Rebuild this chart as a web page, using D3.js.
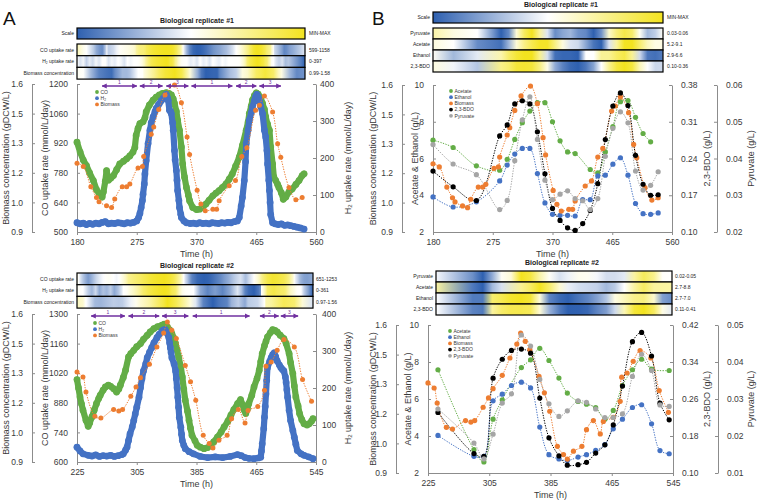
<!DOCTYPE html>
<html>
<head>
<meta charset="utf-8">
<script src="https://cdn.jsdelivr.net/npm/d3@7"></script>
<style>
  body { margin: 0; background: #fff; }
</style>
</head>
<body>
<script>
// ---------- replicate #1, gas uptake (panel A top) ----------
var co1T = [180,185,190,195,200,206,211,216,220,222,225,227,230,234,238,243,248,254,259,264,269,272,274,277,280,285,288,290,295,301,306,311,316,322,326,330,333,335,338,340,343,346,348,351,354,357,359,364,370,375,380,385,390,396,401,406,411,417,422,427,432,438,443,449,452,454,457,459,462,465,468,472,475,478,480,483,486,488,491,493,496,499,501,505,508,512,517,522,528,533,538,541];
var co1 = [925,878,840,814,780,743,700,675,665,690,740,790,745,755,767,795,822,835,846,860,878,900,957,990,1013,1021,1040,1068,1100,1124,1138,1148,1155,1159,1155,1148,1130,1108,1070,1029,981,902,822,759,711,675,648,616,606,608,618,632,650,671,684,695,710,727,750,775,810,854,910,981,1020,1060,1095,1124,1145,1158,1152,1135,1108,1080,1044,1010,981,902,822,759,743,725,711,685,655,665,690,703,725,743,767,775];
var h21T = [180,185,190,195,200,205,210,215,220,225,230,235,240,245,250,255,260,265,270,275,278,280,282,284,285,287,288,290,293,296,298,301,304,306,309,311,314,317,320,322,324,325,327,329,330,332,333,335,336,338,339,340,342,343,345,346,350,354,360,365,370,375,380,385,390,395,400,405,410,415,420,425,430,435,438,441,443,446,448,449,452,454,457,459,462,464,466,468,470,472,475,478,480,482,483,485,486,487,488,491,495,500,505,510,515,520,525,530,535,541];
var h21 = [25,22,24,20,23,21,24,22,26,28,22,24,23,25,24,22,25,24,26,30,39,50,66,85,102,130,157,193,239,275,295,311,325,334,342,347,355,361,368,372,362,356,329,325,320,295,275,220,195,166,140,112,85,66,48,39,30,25,23,24,22,25,23,24,22,25,24,23,25,24,26,25,28,30,39,70,93,139,190,239,275,302,322,338,355,366,372,365,356,340,320,275,257,220,184,140,112,80,47,25,22,20,22,18,19,17,15,13,11,8];
var bio1T = [180,190,202,211,215,227,235,240,252,259,264,277,284,286,298,302,310,320,335,346,355,359,371,377,384,396,402,406,422,432,442,450,464,470,478,491,499,504,517,528,538];
var bio1 = [1.225,1.21,1.114,1.063,1.043,1.024,1.016,1.056,1.114,1.114,1.127,1.203,1.21,1.257,1.362,1.397,1.479,1.548,1.595,1.511,1.349,1.267,1.098,1.032,1.0,1.008,1.008,1.048,1.119,1.143,1.257,1.298,1.476,1.5,1.543,1.468,1.317,1.254,1.111,1.052,1.063];

// ---------- replicate #2, gas uptake (panel A bottom) ----------
var co2T = [225,227,229,231,233,237,240,242,245,248,251,254,256,260,263,267,270,274,278,281,283,287,290,294,297,301,305,310,314,319,323,328,333,339,342,346,349,352,355,357,359,361,364,366,368,370,373,375,377,379,383,386,390,395,400,404,408,413,418,422,427,431,435,440,444,447,449,451,453,455,459,462,466,469,471,473,476,478,480,484,487,490,493,497,502,505,509,511,514,516,518,521,523,526,529,533,536,539,541];
var co2 = [990,950,908,875,845,797,769,785,813,845,876,900,915,940,955,963,958,947,931,945,963,1000,1034,1097,1112,1128,1145,1160,1180,1199,1215,1231,1240,1247,1252,1239,1225,1207,1185,1160,1130,1097,1050,1002,945,892,840,797,760,726,700,679,670,663,668,679,695,718,742,766,793,821,848,876,895,870,845,829,850,876,915,955,995,1034,1075,1113,1150,1170,1191,1212,1226,1222,1215,1200,1184,1160,1113,1070,1018,960,908,865,829,800,781,775,781,793,805];
var h22T = [225,229,233,240,245,250,255,260,265,270,275,280,285,287,290,292,294,296,299,301,303,305,308,310,312,314,317,319,322,325,328,332,335,339,341,343,345,348,349,350,351,352,355,357,358,359,360,361,362,364,365,366,368,370,375,381,390,400,410,420,430,440,445,450,455,462,468,471,472,473,475,476,477,478,479,480,483,485,487,489,491,493,496,498,500,502,504,505,506,507,509,511,514,516,518,520,525,529,535,541];
var h22 = [40,30,22,18,16,19,15,17,16,18,15,17,20,22,32,40,58,76,95,112,130,148,175,201,225,246,265,282,296,309,322,336,345,354,357,358,350,336,322,309,296,282,265,246,225,201,175,148,120,94,75,58,45,36,28,22,15,12,14,12,15,20,17,12,10,9,11,13,30,49,90,121,150,184,220,255,272,282,290,295,285,273,262,255,250,246,230,215,195,175,140,112,85,67,48,31,22,18,14,9];
var bio2T = [225,233,237,249,257,274,281,286,297,304,310,322,332,341,346,352,358,370,377,384,394,402,407,415,426,432,441,450,454,467,476,478,485,493,502,516,527,539];
var bio2 = [1.326,1.302,1.231,1.116,1.108,1.148,1.141,1.148,1.211,1.255,1.299,1.362,1.444,1.51,1.562,1.523,1.484,1.357,1.279,1.192,1.026,0.987,0.966,1.003,1.026,1.105,1.148,1.085,1.144,1.163,1.239,1.353,1.373,1.428,1.479,1.444,1.29,1.187];

// ---------- replicate #1, metabolites (panel B top) ----------
var met1T = [180,212,249,286,298,310,322,334,346,358,370,382,394,406,418,430,442,454,466,478,490,502,514,526,538];
var ac1T = [180,212,249,286,298,310,322,334,346,358,370,382,394,406,430,442,454,466,478,490,502,514,526];
var ac1 = [7.0,6.6,5.6,5.36,5.96,7.04,7.95,8.58,9.04,9.04,8.0,6.96,6.36,6.27,5.4,5.22,6.36,7.73,9.09,9.15,8.24,7.36,6.91];
var et1 = [3.91,3.36,3.64,4.78,5.64,6.24,6.55,6.55,5.18,3.58,2.96,2.91,2.91,2.87,3.76,3.76,5.05,5.09,5.69,6.04,5.09,3.55,3.0,2.96,3.04];
var bdo1 = [0.216,0.186,0.160,0.283,0.304,0.344,0.350,0.344,0.291,0.211,0.145,0.122,0.108,0.103,0.116,0.141,0.192,0.276,0.340,0.365,0.341,0.246,0.191,0.170,0.171];
var pyr1 = [0.0438,0.0385,0.0356,0.0261,0.0286,0.0394,0.0505,0.0568,0.0452,0.0341,0.0288,0.0303,0.0312,0.0291,0.0285,0.0261,0.0291,0.0406,0.0482,0.0527,0.0497,0.0366,0.0314,0.0327,0.0364];

// ---------- replicate #2, metabolites (panel B bottom) ----------
var met2T = [238,285,298,310,322,334,347,359,371,383,396,407,421,432,444,456,467,479,492,504,517,528,540];
var ac2T = [238,285,298,310,322,347,359,371,383,396,407,421,432,444,456,467,479,492,504,517,540];
var ac2 = [7.58,3.26,2.6,4.91,5.96,7.70,8.12,8.74,8.08,7.13,6.32,5.87,5.72,5.54,4.91,5.38,6.73,7.58,8.15,7.61,7.54];
var et2 = [4.03,2.90,2.90,5.90,6.26,6.73,6.91,6.60,4.48,2.99,2.76,2.67,2.86,2.99,3.22,3.53,4.39,4.91,5.54,5.69,4.66,3.21,3.04];
var bdo2 = [0.231,0.142,0.136,0.305,0.346,0.365,0.368,0.359,0.262,0.176,0.137,0.117,0.118,0.123,0.143,0.161,0.204,0.288,0.384,0.404,0.353,0.251,0.215];
var pyr2 = [0.0273,0.0181,0.0138,0.0205,0.0289,0.0314,0.0473,0.0443,0.0353,0.0287,0.0253,0.0268,0.0295,0.0291,0.0273,0.0250,0.0250,0.0260,0.0361,0.0421,0.0377,0.0284,0.0280];

// ---------- process phases (purple arrows) ----------
var phaseLabels = ["1","2","3","1","2","3"];
var phase1Start = [220,280,322,362,433,470];
var phase1End   = [275,316,357,427,465,504];
var phase2Start = [244,294,339,380,470,498];
var phase2End   = [289,335,374,456,495,521];

// ---------- ticks and labels ----------
var xTicks1 = [180,275,370,465,560];
var xTicks2 = [225,305,385,465,545];
var co1Ticks = [500,640,780,920,1060,1200];
var co2Ticks = [600,740,880,1020,1160,1300];
var h2Ticks = [0,100,200,300,400];
var bioTicks = [0.9,1.04,1.18,1.32,1.46,1.6];
var acTicks = [2,4,6,8,10];
var bdo1Ticks = [0.10,0.17,0.24,0.31,0.38];
var bdo2Ticks = [0.10,0.18,0.26,0.34,0.42];
var pyr1Ticks = [0.02,0.03,0.04,0.05,0.06];
var pyr2Ticks = [0.01,0.02,0.03,0.04,0.05];

var gasRows = ["CO uptake rate","H_2 uptake rate","Biomass concentration"];
var gasRange1 = ["599-1158","0-397","0.99-1.58"];
var gasRange2 = ["651-1253","0-361","0.97-1.56"];
var metRows = ["Pyruvate","Acetate","Ethanol","2,3-BDO"];
var metRange1 = ["0.03-0.06","5.2-9.1","2.9-6.6","0.10-0.36"];
var metRange2 = ["0.02-0.05","2.7-8.8","2.7-7.0","0.11-0.41"];
var gasLegend = ["CO","H_2","Biomass"];
var metLegend = ["Acetate","Ethanol","Biomass","2,3-BDO","Pyruvate"];

var cGreen = "#63ad46", cBlue = "#4472c4", cOrange = "#ed7d31", cBlack = "#000000", cGray = "#a5a5a5";
var purple = "#7030a0", axisGray = "#8c8c8c", textCol = "#3a3a3a";
var heatBlue = "#2e60b0", heatYellow = "#f3e31f";

var svg = d3.select("body").append("svg")
    .attr("width", 757).attr("height", 503)
    .style("font-family", "'Liberation Sans', Arial, sans-serif");
var defs = svg.append("defs");
var gradId = 0;

defs.append("marker").attr("id", "arr")
    .attr("viewBox", "0 0 10 10").attr("refX", 9).attr("refY", 5)
    .attr("markerWidth", 3.2).attr("markerHeight", 3.2)
    .attr("orient", "auto-start-reverse")
  .append("path").attr("d", "M0,0L10,5L0,10z").attr("fill", purple);

// text with an optional subscript 2 (written as _2)
function richText(t, str) {
  var parts = str.split("_2");
  t.append("tspan").text(parts[0]);
  if (parts.length > 1) {
    t.append("tspan").attr("baseline-shift", "-20%").style("font-size", "65%").text("2");
    t.append("tspan").text(parts[1]);
  }
}

// median weighted by the time each sample covers (3-colour scale midpoint)
function timeMedian(ts, vs) {
  var items = vs.map(function(v, i) {
    var a = i > 0 ? ts[i - 1] : ts[i], b = i < ts.length - 1 ? ts[i + 1] : ts[i];
    return {v: v, w: (b - a) / 2};
  }).sort(function(p, q) { return p.v - q.v; });
  var total = d3.sum(items, function(d) { return d.w; }), acc = 0;
  for (var k = 0; k < items.length; k++) {
    acc += items[k].w;
    if (acc >= total / 2) return items[k].v;
  }
  return items[items.length - 1].v;
}

function smallText(x, y, str, anchor, size, weight) {
  var t = svg.append("text").attr("x", x).attr("y", y).attr("dy", "0.35em")
      .attr("text-anchor", anchor).attr("fill", "#222")
      .style("font-size", size + "px").style("font-weight", weight || "normal");
  richText(t, str);
}

function scaleBar(x0, x1, y0, h, labelX, rangeX) {
  var id = "g" + (gradId++);
  var grad = defs.append("linearGradient").attr("id", id);
  grad.selectAll("stop").data([heatBlue, "#ffffff", heatYellow]).enter().append("stop")
      .attr("offset", function(d, i) { return (i * 50) + "%"; })
      .attr("stop-color", function(d) { return d; });
  svg.append("rect").attr("x", x0).attr("y", y0).attr("width", x1 - x0).attr("height", h)
      .attr("fill", "url(#" + id + ")").attr("stroke", "#000").attr("stroke-width", 1.2);
  smallText(labelX, y0 + h / 2, "Scale", "end", 5);
  smallText(rangeX, y0 + h / 2, "MIN-MAX", "start", 5);
}

function heatRow(box, y0, tDom, ts, vs, label, range) {
  var id = "g" + (gradId++);
  var ext = d3.extent(vs);
  var color = d3.scaleLinear().domain([ext[0], timeMedian(ts, vs), ext[1]])
      .range([heatBlue, "#ffffff", heatYellow]);
  var pos = d3.scaleLinear().domain(tDom).range([0, 100]).clamp(true);
  var grad = defs.append("linearGradient").attr("id", id);
  grad.selectAll("stop").data(ts).enter().append("stop")
      .attr("offset", function(d) { return pos(d) + "%"; })
      .attr("stop-color", function(d, i) { return color(vs[i]); });
  svg.append("rect").attr("x", box.x0).attr("y", y0).attr("width", box.x1 - box.x0).attr("height", box.h)
      .attr("fill", "url(#" + id + ")").attr("stroke", "#000").attr("stroke-width", 1.2);
  smallText(box.labelX, y0 + box.h / 2, label, "end", 5);
  smallText(box.rangeX, y0 + box.h / 2, range, "start", 5);
}

function styleAxis(g) {
  g.attr("font-size", null).attr("font-family", null);
  g.select(".domain").attr("stroke", axisGray);
  g.selectAll(".tick line").attr("stroke", axisGray);
  g.selectAll(".tick text").attr("fill", textCol).style("font-size", "8.5px");
}

function yAxis(scale, x, ticks, fmt, side, pad) {
  var ax = (side === "left" ? d3.axisLeft(scale) : d3.axisRight(scale))
      .tickValues(ticks).tickFormat(fmt)
      .tickSizeInner(-3).tickSizeOuter(0).tickPadding(pad);
  styleAxis(svg.append("g").attr("transform", "translate(" + x + ",0)").call(ax));
}

function xAxis(scale, y, ticks) {
  var ax = d3.axisBottom(scale).tickValues(ticks).tickFormat(d3.format("d"))
      .tickSizeInner(3).tickSizeOuter(0).tickPadding(4);
  styleAxis(svg.append("g").attr("transform", "translate(0," + y + ")").call(ax));
}

function vTitle(x, y, str) {
  var t = svg.append("text").attr("transform", "translate(" + x + "," + y + ") rotate(-90)")
      .attr("text-anchor", "middle").attr("dy", "0.35em")
      .attr("fill", textCol).style("font-size", "9px");
  richText(t, str);
}

function hTitle(x, y, str) {
  svg.append("text").attr("x", x).attr("y", y).attr("text-anchor", "middle")
      .attr("fill", textCol).style("font-size", "9px").text(str);
}

function dots(ts, vs, x, y, color, r) {
  svg.append("g").selectAll("circle").data(vs).enter().append("circle")
      .attr("cx", function(d, i) { return x(ts[i]); })
      .attr("cy", function(d) { return y(d); })
      .attr("r", r).attr("fill", color);
}

// dense online measurements: drawn as a thick track of dots
function band(ts, vs, x, y, color) {
  var line = d3.line().x(function(d, i) { return x(ts[i]); }).y(function(d) { return y(d); });
  svg.append("path").datum(vs).attr("d", line).attr("fill", "none")
      .attr("stroke", color).attr("stroke-width", 6.2)
      .attr("stroke-linejoin", "round").attr("stroke-linecap", "round");
  dots(ts, vs, x, y, color, 3.4);
}

function dotted(ts, vs, x, y, color) {
  var line = d3.line().curve(d3.curveCatmullRom)
      .x(function(d, i) { return x(ts[i]); }).y(function(d) { return y(d); });
  svg.append("path").datum(vs).attr("d", line).attr("fill", "none")
      .attr("stroke", color).attr("stroke-width", 1).attr("stroke-dasharray", "1.3,1.3");
}

function phases(x, y, starts, ends) {
  starts.forEach(function(s, i) {
    svg.append("line").attr("x1", x(s)).attr("x2", x(ends[i])).attr("y1", y).attr("y2", y)
        .attr("stroke", purple).attr("stroke-width", 1.6)
        .attr("marker-start", "url(#arr)").attr("marker-end", "url(#arr)");
    svg.append("text").attr("x", (x(s) + x(ends[i])) / 2).attr("y", y - 2)
        .attr("text-anchor", "middle").attr("fill", purple).style("font-size", "5px")
        .text(phaseLabels[i]);
  });
}

function legend(x, y, dy, labels, colors) {
  labels.forEach(function(l, i) {
    svg.append("circle").attr("cx", x).attr("cy", y + i * dy).attr("r", 1.9).attr("fill", colors[i]);
    var t = svg.append("text").attr("x", x + 3.5).attr("y", y + i * dy).attr("dy", "0.35em")
        .attr("fill", textCol).style("font-size", "5px");
    richText(t, l);
  });
}

function panelA(p) {
  var x = d3.scaleLinear().domain([p.xTicks[0], p.xTicks[4]]).range([p.left, p.right]);
  var yCO = d3.scaleLinear().domain([p.coTicks[0], p.coTicks[5]]).range([p.bottom, p.top]);
  var yH2 = d3.scaleLinear().domain([0, 400]).range([p.bottom, p.top]);
  var yBio = d3.scaleLinear().domain([0.9, 1.6]).range([p.bottom, p.top]);

  yAxis(yBio, 32, bioTicks, d3.format(".1f"), "left", 9);
  yAxis(yCO, p.left, p.coTicks, d3.format("d"), "left", 9);
  yAxis(yH2, p.right, h2Ticks, d3.format("d"), "right", p.rPad);
  xAxis(x, p.bottom, p.xTicks);

  band(p.coT, p.co, x, yCO, cGreen);
  band(p.h2T, p.h2, x, yH2, cBlue);
  dotted(p.bioT, p.bio, x, yBio, cOrange);
  dots(p.bioT, p.bio, x, yBio, cOrange, 2.5);

  phases(x, p.top + 2, p.pStart, p.pEnd);
  legend(p.legX, p.legY, 6.2, gasLegend, [cGreen, cBlue, cOrange]);

  var mid = (p.top + p.bottom) / 2;
  vTitle(6, mid, "Biomass concentration (gDCW/L)");
  vTitle(45, mid, "CO uptake rate (mmol/L/day)");
  vTitle(348, mid, "H_2 uptake rate (mmol/L/day)");
  hTitle((p.left + p.right) / 2, p.bottom + 24.5, "Time (h)");
}

function panelB(p) {
  var x = d3.scaleLinear().domain([p.xTicks[0], p.xTicks[4]]).range([p.left, p.right]);
  var yAc = d3.scaleLinear().domain([2, 10]).range([p.bottom, p.top]);
  var yBio = d3.scaleLinear().domain([0.9, 1.6]).range([p.bottom, p.top]);
  var yBdo = d3.scaleLinear().domain([p.bdoTicks[0], p.bdoTicks[4]]).range([p.bottom, p.top]);
  var yPyr = d3.scaleLinear().domain([p.pyrTicks[0], p.pyrTicks[4]]).range([p.bottom, p.top]);

  yAxis(yBio, p.bioX, bioTicks, d3.format(".1f"), "left", 9);
  yAxis(yAc, p.left, acTicks, d3.format("d"), "left", 9);
  yAxis(yBdo, p.right, p.bdoTicks, d3.format(".2f"), "right", 9);
  yAxis(yPyr, p.pyrX, p.pyrTicks, d3.format(".2f"), "right", 9);
  xAxis(x, p.bottom, p.xTicks);

  var series = [
    [p.acT, p.ac, yAc, cGreen],
    [p.metT, p.et, yAc, cBlue],
    [p.bioT, p.bio, yBio, cOrange],
    [p.metT, p.bdo, yBdo, cBlack],
    [p.metT, p.pyr, yPyr, cGray]
  ];
  series.forEach(function(s) { dotted(s[0], s[1], x, s[2], s[3]); });
  series.forEach(function(s) { dots(s[0], s[1], x, s[2], s[3], 2.6); });

  legend(p.legX, p.legY, 6.2, metLegend, [cGreen, cBlue, cOrange, cBlack, cGray]);

  var mid = (p.top + p.bottom) / 2;
  vTitle(373, mid, "Biomass concentration (gDCW/L)");
  vTitle(p.acTitleX, mid, "Acetate & Ethanol (g/L)");
  vTitle(707, mid, "2,3-BDO (g/L)");
  vTitle(751, mid, "Pyruvate (g/L)");
  hTitle((p.left + p.right) / 2, p.bottom + 24.5, "Time (h)");
}

// ---------- panel letters ----------
svg.append("text").attr("x", 3).attr("y", 25).style("font-size", "19px").attr("fill", "#111").text("A");
svg.append("text").attr("x", 372).attr("y", 25).style("font-size", "19px").attr("fill", "#111").text("B");

// ---------- A, replicate #1 ----------
smallText(197, 20.5, "Biological replicate #1", "middle", 7, "bold");
scaleBar(77, 305, 28, 11, 74, 309);
var boxA1 = {x0: 77, x1: 305, h: 11.7, labelX: 74, rangeX: 309};
heatRow(boxA1, 44, [180, 541], co1T, co1, gasRows[0], gasRange1[0]);
heatRow(boxA1, 55.7, [180, 541], h21T, h21, gasRows[1], gasRange1[1]);
heatRow(boxA1, 67.4, [180, 541], bio1T, bio1, gasRows[2], gasRange1[2]);
panelA({left: 77, right: 316, top: 84, bottom: 232, rPad: 4,
        xTicks: xTicks1, coTicks: co1Ticks,
        coT: co1T, co: co1, h2T: h21T, h2: h21, bioT: bio1T, bio: bio1,
        pStart: phase1Start, pEnd: phase1End, legX: 97, legY: 92});

// ---------- A, replicate #2 ----------
smallText(197, 266, "Biological replicate #2", "middle", 7, "bold");
var boxA2 = {x0: 77, x1: 313, h: 11.7, labelX: 74, rangeX: 316};
heatRow(boxA2, 273, [225, 541], co2T, co2, gasRows[0], gasRange2[0]);
heatRow(boxA2, 284.7, [225, 541], h22T, h22, gasRows[1], gasRange2[1]);
heatRow(boxA2, 296.4, [225, 541], bio2T, bio2, gasRows[2], gasRange2[2]);
panelA({left: 77, right: 316, top: 314, bottom: 462, rPad: 6,
        xTicks: xTicks2, coTicks: co2Ticks,
        coT: co2T, co: co2, h2T: h22T, h2: h22, bioT: bio2T, bio: bio2,
        pStart: phase2Start, pEnd: phase2End, legX: 95, legY: 323});

// ---------- B, replicate #1 ----------
smallText(561, 4.5, "Biological replicate #1", "middle", 7, "bold");
scaleBar(433, 663, 12, 11, 430, 667);
var boxB1 = {x0: 433, x1: 663, h: 11, labelX: 430, rangeX: 667};
heatRow(boxB1, 28, [180, 538], met1T, pyr1, metRows[0], metRange1[0]);
heatRow(boxB1, 39, [180, 538], ac1T, ac1, metRows[1], metRange1[1]);
heatRow(boxB1, 50, [180, 538], met1T, et1, metRows[2], metRange1[2]);
heatRow(boxB1, 61, [180, 538], met1T, bdo1, metRows[3], metRange1[3]);
panelB({left: 433, right: 672, top: 85, bottom: 232, bioX: 402, pyrX: 717, acTitleX: 415,
        xTicks: xTicks1, bdoTicks: bdo1Ticks, pyrTicks: pyr1Ticks,
        acT: ac1T, ac: ac1, metT: met1T, et: et1, bdo: bdo1, pyr: pyr1,
        bioT: bio1T, bio: bio1, legX: 451, legY: 91});

// ---------- B, replicate #2 ----------
smallText(562, 263, "Biological replicate #2", "middle", 7, "bold");
var boxB2 = {x0: 436, x1: 672, h: 11, labelX: 433, rangeX: 675};
heatRow(boxB2, 271, [238, 540], met2T, pyr2, metRows[0], metRange2[0]);
heatRow(boxB2, 282, [238, 540], ac2T, ac2, metRows[1], metRange2[1]);
heatRow(boxB2, 293, [238, 540], met2T, et2, metRows[2], metRange2[2]);
heatRow(boxB2, 304, [238, 540], met2T, bdo2, metRows[3], metRange2[3]);
panelB({left: 428, right: 673, top: 325, bottom: 473, bioX: 396, pyrX: 718, acTitleX: 408,
        xTicks: xTicks2, bdoTicks: bdo2Ticks, pyrTicks: pyr2Ticks,
        acT: ac2T, ac: ac2, metT: met2T, et: et2, bdo: bdo2, pyr: pyr2,
        bioT: bio2T, bio: bio2, legX: 450, legY: 331});
</script>
</body>
</html>
